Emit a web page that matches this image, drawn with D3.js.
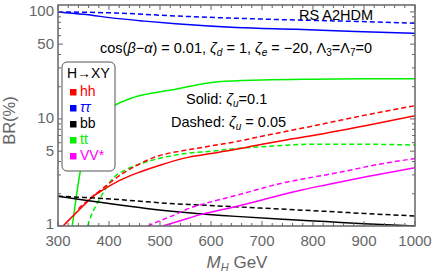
<!DOCTYPE html>
<html><head><meta charset="utf-8">
<script src="https://cdn.jsdelivr.net/npm/d3@7"></script>
<style>body{margin:0;background:#fff}svg{display:block}</style>
</head><body>
<svg id="c" width="436" height="276"></svg>
<script>
// ---- data ----
const xTicks = [300,400,500,600,700,800,900,1000];
const yTicks = [1,5,10,50,100];
const yTickLabels = ["1","5","10","50","100"];
const tauSolid = [[300,100],[350,95],[414,87],[470,82],[531,77.5],[649,71.6],[767,68.7],[884,65.7],[1000,63]];
const tauDashed = [[300,100],[414,97.6],[531,91.6],[649,87.2],[767,84],[884,81.5],[1000,78.5]];
const ttSolid = [[328,1.0],[336,1.9],[344,3.3],[352,5.0],[363,7.0],[374,9.1],[390,11.3],[407,13],[450,16],[521,18.6],[614,22.3],[700,23.1],[800,23.5],[900,23.7],[1000,23.8]];
const ttDashed = [[358,1.0],[365,1.25],[376,1.6],[390,2.1],[408,2.8],[430,3.3],[461,3.8],[500,4.3],[550,4.75],[600,5.0],[650,5.3],[700,5.5],[800,5.8],[900,5.8],[1000,5.7]];
const hhSolid = [[310,1.0],[330,1.25],[348,1.52],[368,1.88],[388,2.17],[420,2.65],[453,3.1],[500,3.7],[557,4.4],[600,4.75],[649,5.2],[700,5.8],[750,6.4],[825,7.35],[900,8.6],[1000,10.7]];
const hhDashed = [[340,1.45],[350,1.6],[380,2.1],[400,2.5],[427,3.1],[460,3.8],[492,4.44],[550,5.1],[600,5.6],[649,6.13],[700,6.9],[750,7.7],[825,9.1],[900,10.8],[1000,13.3]];
const bbSolid = [[300,1.9],[350,1.75],[400,1.62],[473,1.46],[550,1.34],[649,1.23],[750,1.15],[825,1.1],[900,1.05],[1000,1.0]];
const bbDashed = [[300,1.9],[350,1.85],[394,1.8],[450,1.72],[512,1.63],[580,1.57],[649,1.51],[750,1.43],[825,1.37],[900,1.31],[1000,1.24]];
const vvSolid = [[505,1.0],[540,1.12],[577,1.27],[610,1.38],[649,1.52],[700,1.75],[737,1.95],[780,2.18],[825,2.42],[870,2.68],[912,2.93],[1000,3.5]];
const vvDashed = [[476,1.0],[500,1.12],[530,1.28],[557,1.46],[600,1.68],[649,1.93],[700,2.25],[737,2.5],[780,2.75],[825,3.0],[870,3.3],[912,3.64],[1000,4.27]];
const legendLabels = ["hh","ττ","bb","tt","VV*"];
const legendColors = ["#ff0000","#0000ff","#000000","#00f000","#ff00ff"];

// ---- layout ----
const L=58, R=415, T=5, B=226;
const svg = d3.select("#c");
const x = d3.scaleLinear().domain([300,1000]).range([L,R]);
const y = d3.scaleLog().domain([1,116]).range([B,T]);
const grey = "#666666";
const FONT = "Liberation Sans, Arial, sans-serif";

svg.append("defs").append("clipPath").attr("id","clip")
  .append("rect").attr("x",L).attr("y",T).attr("width",R-L).attr("height",B-T);

const series = [
  {d:tauSolid,c:"#0000ff",dash:null},{d:tauDashed,c:"#0000ff",dash:"5,3"},
  {d:ttSolid,c:"#00f000",dash:null},{d:ttDashed,c:"#00f000",dash:"5,3"},
  {d:hhSolid,c:"#ff0000",dash:null},{d:hhDashed,c:"#ff0000",dash:"5,3"},
  {d:bbSolid,c:"#000000",dash:null},{d:bbDashed,c:"#000000",dash:"5,3"},
  {d:vvSolid,c:"#ff00ff",dash:null},{d:vvDashed,c:"#ff00ff",dash:"5,3"}
];
const line = d3.line().x(d=>x(d[0])).y(d=>y(d[1])).curve(d3.curveMonotoneX);
const g = svg.append("g").attr("clip-path","url(#clip)");
series.forEach(s=>{
  g.append("path").attr("d",line(s.d)).attr("fill","none").attr("stroke",s.c)
   .attr("stroke-width",1.5).attr("stroke-dasharray",s.dash);
});

// ---- frame & ticks ----
const ax = svg.append("g").attr("stroke",grey);
function tick(x1,y1,x2,y2){ax.append("line").attr("x1",x1).attr("y1",y1).attr("x2",x2).attr("y2",y2).attr("stroke-width",1);}
d3.range(300,1001,20).forEach(v=>{
  const major = v%100===0, len = major?5:3, px=x(v);
  tick(px,B,px,B-len); tick(px,T,px,T+len);
});
const yMinor=[];
[1,10,100].forEach(dec=>{for(let k=1;k<10;k++){const v=dec*k; if(v<=116) yMinor.push(v);} });
yMinor.forEach(v=>{
  const major = yTicks.includes(v), len = major?5:3, py=y(v);
  tick(L,py,L+len,py); tick(R,py,R-len,py);
});
svg.append("rect").attr("x",L).attr("y",T).attr("width",R-L).attr("height",B-T)
  .attr("fill","none").attr("stroke",grey).attr("stroke-width",1.5);

const lab = svg.append("g").attr("fill",grey).attr("font-family",FONT).attr("font-size",15);
xTicks.forEach(v=>lab.append("text").attr("x",x(v)).attr("y",B+20).attr("text-anchor","middle").text(v));
yTicks.forEach((v,i)=>lab.append("text").attr("x",L-4).attr("y",y(v)+(v===1?3:4.5)).attr("text-anchor","end").text(yTickLabels[i]));
lab.append("text").attr("transform",`translate(15,${(T+B)/2+5}) rotate(-90)`).attr("text-anchor","middle").attr("font-size",16.5).text("BR(%)");
const xl = lab.append("text").attr("x",237).attr("y",268).attr("text-anchor","middle").attr("font-size",17);
xl.append("tspan").attr("font-style","italic").text("M");
xl.append("tspan").attr("font-style","italic").attr("font-size",11).attr("dy",3).text("H");
xl.append("tspan").attr("dy",-3).text(" GeV");

// ---- annotations ----
const SUB = 10;
const ann = svg.append("g").attr("fill","#000").attr("font-family",FONT).attr("font-size",14.5);
ann.append("text").attr("x",299).attr("y",20).text("RS A2HDM");
const t1 = ann.append("text").attr("x",236).attr("y",53).attr("text-anchor","middle");
t1.append("tspan").text("cos(");
t1.append("tspan").attr("font-style","italic").text("β");
t1.append("tspan").text("−");
t1.append("tspan").attr("font-style","italic").text("α");
t1.append("tspan").text(") = 0.01, ");
t1.append("tspan").attr("font-style","italic").text("ζ");
t1.append("tspan").attr("font-style","italic").attr("font-size",SUB).attr("dy",3).text("d");
t1.append("tspan").attr("dy",-3).text(" = 1, ");
t1.append("tspan").attr("font-style","italic").text("ζ");
t1.append("tspan").attr("font-style","italic").attr("font-size",SUB).attr("dy",3).text("e");
t1.append("tspan").attr("dy",-3).text(" = −20, Λ");
t1.append("tspan").attr("font-size",SUB).attr("dy",3).text("3");
t1.append("tspan").attr("dy",-3).text("=Λ");
t1.append("tspan").attr("font-size",SUB).attr("dy",3).text("7");
t1.append("tspan").attr("dy",-3).text("=0");

const t2 = ann.append("text").attr("x",186).attr("y",104);
t2.append("tspan").text("Solid: ");
t2.append("tspan").attr("font-style","italic").text("ζ");
t2.append("tspan").attr("font-style","italic").attr("font-size",SUB).attr("dy",3).text("u");
t2.append("tspan").attr("dy",-3).text("=0.1");
const t3 = ann.append("text").attr("x",171).attr("y",127);
t3.append("tspan").text("Dashed: ");
t3.append("tspan").attr("font-style","italic").text("ζ");
t3.append("tspan").attr("font-style","italic").attr("font-size",SUB).attr("dy",3).text("u");
t3.append("tspan").attr("dy",-3).text(" = 0.05");

// ---- legend ----
const lg = svg.append("g");
lg.append("rect").attr("x",62).attr("y",62).attr("width",53).attr("height",109).attr("rx",5)
  .attr("fill","#fff").attr("stroke","#555").attr("stroke-width",1);
lg.append("text").attr("x",67).attr("y",78).attr("font-family",FONT)
  .attr("font-size",14).attr("fill","#000").text("H→XY");
legendLabels.forEach((s,i)=>{
  const yy = 96 + i*16;
  lg.append("rect").attr("x",70).attr("y",yy-7).attr("width",6.5).attr("height",6.5).attr("fill",legendColors[i]);
  lg.append("text").attr("x",80).attr("y",yy).attr("font-family",FONT)
    .attr("font-size",14).attr("fill",legendColors[i]).attr("font-style",i===1?"italic":null).text(s);
});
</script>
</body></html>
